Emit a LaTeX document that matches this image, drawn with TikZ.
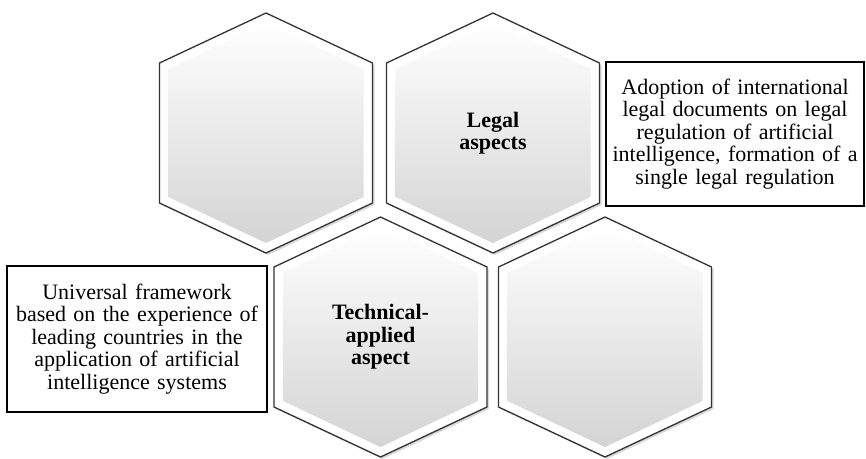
\documentclass[tikz,border=0pt]{standalone}
\usepackage{fontspec}
\setmainfont{Liberation Serif}
\usetikzlibrary{shadows,positioning}

\begin{document}
\begin{tikzpicture}[x=1pt, y=-1pt,
    hexedge/.style={draw=black!80, line width=1.3pt, line join=miter, fill=white,
        drop shadow={shadow xshift=2pt, shadow yshift=-2pt, opacity=0.3}},
    cellfont/.style={font=\fontsize{22}{22.5}\selectfont\bfseries, align=center},
    notebox/.style={draw=black, line width=1.4pt, fill=white, inner sep=0pt,
        align=center, font=\fontsize{22}{22.5}\selectfont}]

% Page frame
\useasboundingbox (0,0) rectangle (866,458);

% Helper for one hexagon cell
\newcommand{\hexcell}[4]{%
    % #1 = name, #2 = x centre, #3 = y centre, #4 = label
    \draw[hexedge] (#2-106.5,#3-70) -- (#2,#3-120) -- (#2+106.5,#3-70)
        -- (#2+106.5,#3+70) -- (#2,#3+120) -- (#2-106.5,#3+70) -- cycle;
    \shade[top color=white, bottom color=black!17] (#2-97.5,#3-64) -- (#2,#3-110)
        -- (#2+97.5,#3-64) -- (#2+97.5,#3+64) -- (#2,#3+110) -- (#2-97.5,#3+64) -- cycle;
    \node[cellfont] (#1) at (#2,#3) {#4};
}

% Honeycomb
\hexcell{blank1}{266}{133}{}
\hexcell{legal}{493}{133}{Legal\\aspects}
\hexcell{tech}{380.5}{337}{Technical-\\applied\\aspect}
\hexcell{blank2}{605}{337}{}

% Notes beside the cells
\node[notebox, minimum width=258, minimum height=144, text width=256] (legalnote)
    at (735,134) {Adoption of international\\legal documents on legal\\regulation of
    artificial\\intelligence, formation of a\\single legal regulation};
\node[notebox, minimum width=260, minimum height=146, text width=258] (technote)
    at (137,339) {Universal framework\\based on the experience of\\leading countries
    in the\\application of artificial\\intelligence systems};

\end{tikzpicture}
\end{document}
